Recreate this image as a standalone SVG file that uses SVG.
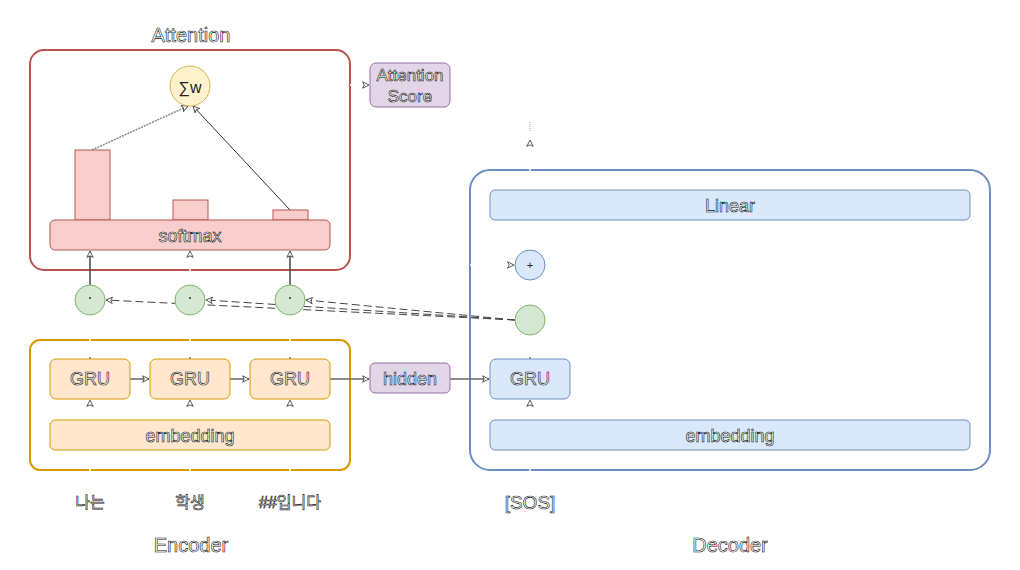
<svg xmlns="http://www.w3.org/2000/svg" width="1020" height="570" viewBox="0 0 1020 570">
<defs>
<style>
.t{font-family:"Liberation Sans","Noto Sans CJK KR",sans-serif;font-size:18px;fill:#fff;stroke:#111;stroke-width:0.6;text-anchor:middle;dominant-baseline:central}
.big{font-size:20px}
.sm{font-size:16px}
.red{fill:#f8cecc;stroke:#b85450;stroke-width:1}
.org{fill:#ffe6cc;stroke:#d79b00;stroke-width:1}
.blu{fill:#dae8fc;stroke:#6c8ebf;stroke-width:1}
.pur{fill:#e1d5e7;stroke:#9673a6;stroke-width:1}
.grn{fill:#d5e8d4;stroke:#82b366;stroke-width:1}
.ln{fill:none;stroke:#555;stroke-width:1.5;marker-end:url(#a)}
.wl{fill:none;stroke:#fff;stroke-width:1.5;marker-end:url(#a)}
.ds{fill:none;stroke:#444;stroke-width:1;stroke-dasharray:8 4;marker-end:url(#a)}
</style>
<marker id="a" viewBox="0 0 10 10" refX="9" refY="5" markerWidth="8" markerHeight="8" orient="auto" markerUnits="userSpaceOnUse">
<path d="M1,1 L9,5 L1,9 L3,5 Z" fill="#fff" stroke="#333" stroke-width="1"/>
</marker>
</defs>
<rect width="1020" height="570" fill="#fff"/>

<g id="attention">
<text class="t big" x="191" y="35">Attention</text>
<rect x="30" y="50" width="320" height="220" rx="14" fill="#fff" stroke="#b85450" stroke-width="2"/>
</g>
<g id="encoder">
<rect x="30" y="340" width="320" height="130" rx="10" fill="#fff" stroke="#d79b00" stroke-width="2"/>
<text class="t big" x="191" y="545">Encoder</text>
</g>
<g id="decoder">
<rect x="470" y="170" width="520" height="300" rx="20" fill="#fff" stroke="#6c8ebf" stroke-width="2"/>
<text class="t big" x="730" y="545">Decoder</text>
</g>

<g id="connectors">
<path class="ln" d="M350,85 H369" style="stroke:#fff"/>
<path class="ln" d="M92,150 L188,106" style="stroke:#888;stroke-dasharray:2 1"/>
<path class="ln" d="M290,210 L193,106" style="stroke:#333;stroke-width:1"/>
<path class="ln" d="M90,285 V251" style="stroke:#444"/>
<path class="ln" d="M190,285 V251" style="stroke:#fff"/>
<path class="ln" d="M290,285 V251" style="stroke:#444"/>
<path class="ds" d="M515,320 L106,300"/>
<path class="ds" d="M515,320 L206,300"/>
<path class="ds" d="M515,320 L306,300"/>
<path class="ln" d="M130,379 H149" style="stroke:#666"/>
<path class="ln" d="M230,379 H249" style="stroke:#666"/>
<path class="ln" d="M330,379 H369" style="stroke:#666"/>
<path class="ln" d="M450,379 H489" style="stroke:#666"/>
<path class="wl" d="M90,490 V400"/>
<path class="wl" d="M190,490 V400"/>
<path class="wl" d="M290,490 V400"/>
<path class="wl" d="M530,490 V400"/>
<path class="wl" d="M470,265 H514"/>
<path class="wl" d="M530,190 V140"/>
<path d="M530,122 V131" stroke="#999" stroke-width="1" stroke-dasharray="1 1"/>
<path d="M90,315 V359 M190,315 V359 M290,315 V359" stroke="#fff" stroke-width="1.5"/>
<path d="M90,357 V359 M190,357 V359 M290,357 V359 M530,357 V359" stroke="#333" stroke-width="1"/>
</g>

<g id="sum"><circle cx="190" cy="86" r="20" fill="#fff2cc" stroke="#d6b656"/><text x="190" y="87" font-family="Liberation Sans,sans-serif" font-size="16" fill="#222" text-anchor="middle" dominant-baseline="central">∑w</text></g>
<g id="bar1"><rect class="red" x="75" y="150" width="35" height="70"/></g>
<g id="bar2"><rect class="red" x="173" y="200" width="35" height="20"/></g>
<g id="bar3"><rect class="red" x="273" y="210" width="35" height="10"/></g>
<g id="softmax"><rect class="red" x="50" y="220" width="280" height="30" rx="5"/><text class="t" x="190" y="236">softmax</text></g>
<g id="score"><rect class="pur" x="370" y="63" width="80" height="44" rx="6"/><text class="t" x="410" y="75" style="font-size:17px">Attention</text><text class="t" x="410" y="96" style="font-size:17px">Score</text></g>

<g id="dot1"><circle class="grn" cx="90" cy="300" r="15"/><circle cx="90" cy="298" r="1" fill="#333"/></g>
<g id="dot2"><circle class="grn" cx="190" cy="300" r="15"/><circle cx="190" cy="298" r="1" fill="#333"/></g>
<g id="dot3"><circle class="grn" cx="290" cy="300" r="15"/><circle cx="290" cy="298" r="1" fill="#333"/></g>

<g id="gru1"><rect class="org" x="50" y="359" width="80" height="40" rx="6"/><text class="t" x="90" y="379">GRU</text></g>
<g id="gru2"><rect class="org" x="150" y="359" width="80" height="40" rx="6"/><text class="t" x="190" y="379">GRU</text></g>
<g id="gru3"><rect class="org" x="250" y="359" width="80" height="40" rx="6"/><text class="t" x="290" y="379">GRU</text></g>
<g id="emb1"><rect class="org" x="50" y="420" width="280" height="30" rx="5"/><text class="t" x="190" y="436">embedding</text></g>
<g id="hidden"><rect class="pur" x="370" y="363" width="80" height="30" rx="5"/><text class="t" x="410" y="379">hidden</text></g>

<g id="linear"><rect class="blu" x="490" y="190" width="480" height="30" rx="5"/><text class="t" x="730" y="206">Linear</text></g>
<g id="plus"><circle class="blu" cx="530" cy="265" r="15"/><text x="530" y="265" font-family="Liberation Sans,sans-serif" font-size="11" fill="#222" text-anchor="middle" dominant-baseline="central">+</text></g>
<g id="query"><circle class="grn" cx="530" cy="320" r="15"/></g>
<g id="gru4"><rect class="blu" x="490" y="359" width="80" height="40" rx="6"/><text class="t" x="530" y="379">GRU</text></g>
<g id="emb2"><rect class="blu" x="490" y="420" width="480" height="30" rx="5"/><text class="t" x="730" y="436">embedding</text></g>

<g id="tok1"><text class="t sm" x="90" y="502">나는</text></g>
<g id="tok2"><text class="t sm" x="190" y="502">학생</text></g>
<g id="tok3"><text class="t sm" x="290" y="502">##입니다</text></g>
<g id="tok4"><text class="t" x="530" y="502" style="font-size:19px">[SOS]</text></g>
</svg>
